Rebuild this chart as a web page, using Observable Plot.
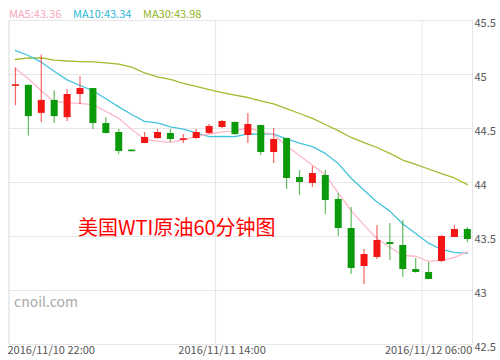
<!DOCTYPE html>
<html><head><meta charset="utf-8">
<script src="https://cdn.jsdelivr.net/npm/d3@7"></script>
<script src="https://cdn.jsdelivr.net/npm/@observablehq/plot@0.6"></script>
<style>
html,body{margin:0;padding:0;background:#fff;}
#wrap{position:relative;width:500px;height:360px;font-family:"Noto Sans CJK SC","Open Sans",sans-serif;}
#legend{position:absolute;left:9px;top:5px;font-size:11px;line-height:16px;white-space:nowrap;}
#legend span{position:absolute;top:0;}
#wm{position:absolute;left:78px;top:214px;font-size:20px;line-height:26px;color:#f00;white-space:nowrap;}
#site{position:absolute;left:14px;top:292px;font-size:14px;line-height:18px;color:#aaa;}
</style></head>
<body><div id="wrap"></div>
<script>
const open  = [44.89,44.90,44.64,44.76,44.60,44.815,44.87,44.546,44.463,44.300,44.361,44.407,44.454,44.39,44.407,44.454,44.509,44.556,44.435,44.528,44.278,44.407,44.046,43.991,44.065,43.843,43.574,43.222,43.306,43.444,43.417,43.194,43.167,43.269,43.491,43.565];
const high  = [45.06,44.90,45.18,44.85,44.86,44.98,44.87,44.60,44.49,44.30,44.463,44.49,44.49,44.444,44.49,44.537,44.574,44.56,44.639,44.53,44.50,44.41,44.111,44.148,44.111,43.898,43.769,43.38,43.602,43.62,43.648,43.296,43.259,43.51,43.602,43.583];
const low   = [44.71,44.43,44.556,44.546,44.565,44.72,44.49,44.45,44.26,44.285,44.36,44.40,44.37,44.361,44.40,44.45,44.50,44.435,44.361,44.25,44.176,43.935,43.88,43.954,43.704,43.50,43.148,43.056,43.287,43.278,43.12,43.16,43.10,43.26,43.49,43.444];
const close = [44.905,44.61,44.76,44.61,44.815,44.87,44.546,44.454,44.287,44.285,44.417,44.463,44.398,44.405,44.463,44.519,44.565,44.444,44.537,44.278,44.398,44.037,44.0,44.083,43.833,43.574,43.204,43.333,43.463,43.426,43.194,43.167,43.102,43.50,43.565,43.472];
const ma5   = [45.056,44.96,44.85,44.75,44.739,44.733,44.72,44.659,44.594,44.49,44.40,44.383,44.372,44.395,44.428,44.449,44.469,44.478,44.506,44.469,44.444,44.339,44.25,44.159,44.07,43.905,43.739,43.605,43.481,43.40,43.324,43.317,43.27,43.278,43.306,43.36];
const ma10  = [45.222,45.176,45.114,45.03,44.95,44.898,44.85,44.775,44.70,44.63,44.566,44.552,44.516,44.495,44.459,44.424,44.426,44.425,44.45,44.448,44.447,44.404,44.364,44.332,44.269,44.175,44.039,43.928,43.82,43.735,43.615,43.528,43.438,43.38,43.353,43.343];
const ma30  = [45.139,45.153,45.153,45.134,45.125,45.12,45.116,45.108,45.097,45.069,45.014,44.977,44.954,44.917,44.889,44.861,44.833,44.81,44.787,44.755,44.727,44.685,44.639,44.593,44.537,44.481,44.417,44.37,44.324,44.269,44.208,44.167,44.125,44.083,44.042,43.98];
const yTicks = [42.5,43,43.5,44,44.5,45,45.5];
const xTickIdx = [0,16,32];
const xTickLabels = ["2016/11/10 22:00","2016/11/11 14:00","2016/11/12 06:00"];
const legendLabels = ["MA5:43.36","MA10:43.34","MA30:43.98"];

const UP = "#f31414", DOWN = "#0a9a0a";
const data = open.map((o,i)=>({i:i+0.5,o,h:high[i],l:low[i],c:close[i],m5:ma5[i],m10:ma10[i],m30:ma30[i],up:close[i]>=o}));
const ticks = xTickIdx.map((t,k)=>({t,label:xTickLabels[k]}));

const chart = Plot.plot({
  width:500, height:360,
  marginLeft:8.5, marginRight:28, marginTop:20, marginBottom:16,
  x:{domain:[0,35.9], axis:null},
  y:{domain:[42.5,45.5], axis:null},
  style:{fontFamily:'"Noto Sans CJK SC","Open Sans",sans-serif', background:"#fff", overflow:"visible"},
  marks:[
    Plot.gridY(yTicks,{stroke:"#e6e6e6", strokeOpacity:1}),
    Plot.ruleX(xTickIdx,{stroke:"#e6e6e6"}),
    Plot.frame({stroke:"#e6e6e6"}),
    Plot.line(data,{x:"i",y:"m30",stroke:"#9dbd2e",strokeWidth:1.3}),
    Plot.line(data,{x:"i",y:"m10",stroke:"#44c4dc",strokeWidth:1.3}),
    Plot.line(data,{x:"i",y:"m5",stroke:"#ffb8c8",strokeWidth:1.3}),
    Plot.ruleX(data,{x:"i",y1:"l",y2:"h",stroke:d=>d.up?UP:DOWN,strokeOpacity:0.65,strokeWidth:1.2}),
    Plot.ruleX(data,{x:"i",y1:"o",y2:"c",stroke:d=>d.up?UP:DOWN,strokeWidth:7}),
    Plot.text(yTicks,{y:d=>d,text:d=>String(d),frameAnchor:"right",textAnchor:"start",dx:2,dy:3,fill:"#555",fontSize:11}),
    Plot.text(ticks.slice(0,1),{x:"t",text:"label",frameAnchor:"bottom",textAnchor:"start",dx:-1.5,dy:9,fill:"#555",fontSize:11}),
    Plot.text(ticks.slice(1),{x:d=>d.t+0.5,text:"label",frameAnchor:"bottom",textAnchor:"middle",dy:9,fill:"#555",fontSize:11})
  ]
});
const wrap = document.getElementById("wrap");
wrap.appendChild(chart);
const leg = document.createElement("div"); leg.id="legend";
const legColors = ["#f7a6bb","#2cb8d8","#8fb42a"], legX=[0,64,134];
legendLabels.forEach((t,k)=>{const s=document.createElement("span");s.textContent=t;s.style.color=legColors[k];s.style.left=legX[k]+"px";leg.appendChild(s);});
wrap.appendChild(leg);
const wm=document.createElement("div");wm.id="wm";wm.textContent="美国WTI原油60分钟图";wrap.appendChild(wm);
const site=document.createElement("div");site.id="site";site.textContent="cnoil.com";wrap.appendChild(site);
</script></body></html>
